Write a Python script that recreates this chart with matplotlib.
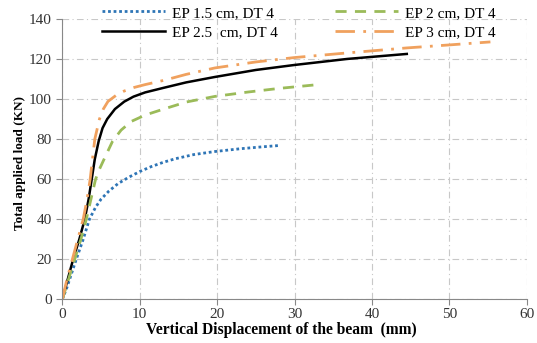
import matplotlib.pyplot as plt

plt.rcParams['font.family'] = ['Liberation Serif', 'DejaVu Serif']

# load-displacement curves (mm, kN)
ep15_x = [0, 0.6, 1.8, 2.7, 3.5, 4.3, 5.0, 6.0, 7.2, 8.6, 10.0, 11.5, 13.1, 14.6, 17.0, 19.7, 23.0, 26.0, 28.0]
ep15_y = [0, 6, 20, 30, 40, 46, 50, 54, 57.8, 61, 63.8, 66.3, 68.5, 70.2, 72.3, 73.8, 75.2, 76.2, 76.8]

ep2_x = [0, 0.8, 1.6, 2.4, 3.1, 3.7, 4.3, 4.8, 5.4, 6.5, 7.6, 8.9, 10.7, 13.1, 16.0, 19.7, 24.0, 28.0, 32.5]
ep2_y = [0, 10, 20, 30, 40, 50, 60, 65, 70, 79, 84.5, 88.8, 92, 95, 98.5, 101.3, 103.5, 105.3, 107]

ep25_x = [0, 0.7, 1.4, 2.2, 2.9, 3.4, 3.8, 4.2, 4.7, 5.2, 5.8, 6.8, 8.0, 9.2, 10.7, 13.1, 16.0, 19.7, 25.0, 30.0, 36.8, 44.5]
ep25_y = [0, 10, 20, 30, 40, 50, 60, 70, 79, 85.5, 90, 95, 98.7, 101.2, 103.3, 105.6, 108.3, 111, 114.5, 117, 120, 122.5]

ep3_x = [0, 0.6, 1.3, 2.0, 2.7, 3.2, 3.6, 3.9, 4.2, 4.8, 5.3, 5.9, 7.0, 8.0, 9.3, 10.7, 13.1, 16.0, 19.7, 25.0, 30.0, 36.8, 44.5, 50.0, 55.3]
ep3_y = [0, 10, 20, 30, 40, 50, 60, 70, 80, 90, 95, 98.8, 102, 104, 105.8, 107.2, 109.3, 112.3, 115.5, 118.5, 120.7, 123, 125.5, 127, 128.5]

fig = plt.figure(figsize=(5.37, 3.43), dpi=100)
ax = fig.add_axes([0.116, 0.127, 0.865, 0.818])

ax.plot(ep15_x, ep15_y, color='#2E75B6', lw=2.0, ls=(0, (1, 1)), label='EP 1.5 cm, DT 4')
ax.plot(ep25_x, ep25_y, color='black', lw=1.8, label='EP 2.5  cm, DT 4')
ax.plot(ep2_x, ep2_y, color='#9BBB59', lw=2.0, ls=(0, (4, 3)), label='EP 2 cm, DT 4')
ax.plot(ep3_x, ep3_y, color='#F0A15E', lw=2.0, ls=(0, (7, 3, 1, 3)), label='EP 3 cm, DT 4')

ax.set_xlim(0, 60)
ax.set_ylim(0, 140)
ax.set_xticks(range(0, 61, 10))
ax.set_yticks(range(0, 141, 20))
ax.grid(True, color='#c8c8c8', ls=(0, (6, 3, 1, 3)), lw=0.8)
ax.set_axisbelow(True)
for s in ['top', 'right']:
    ax.spines[s].set_visible(False)
for s in ['left', 'bottom']:
    ax.spines[s].set_color('#888888')
ax.tick_params(colors='#888888', labelcolor='#333333', labelsize=11, length=4)
ax.tick_params(axis='x', pad=2)

ax.set_xlabel('Vertical Displacement of the beam  (mm)', fontsize=11.2, fontweight='bold')
ax.xaxis.set_label_coords(0.472, -0.08)
ax.set_ylabel('Total applied load (KN)', fontsize=9.5, fontweight='bold')
ax.yaxis.set_label_coords(-0.078, 0.487)

ax.legend(loc='upper left', bbox_to_anchor=(102 / 537, 1 - 6 / 343), bbox_transform=fig.transFigure,
          ncol=2, frameon=False, fontsize=11, handlelength=4.1, columnspacing=3.8,
          labelspacing=0.4, borderaxespad=0, borderpad=0, handletextpad=0.45)

fig.savefig('out.png', dpi=100)
